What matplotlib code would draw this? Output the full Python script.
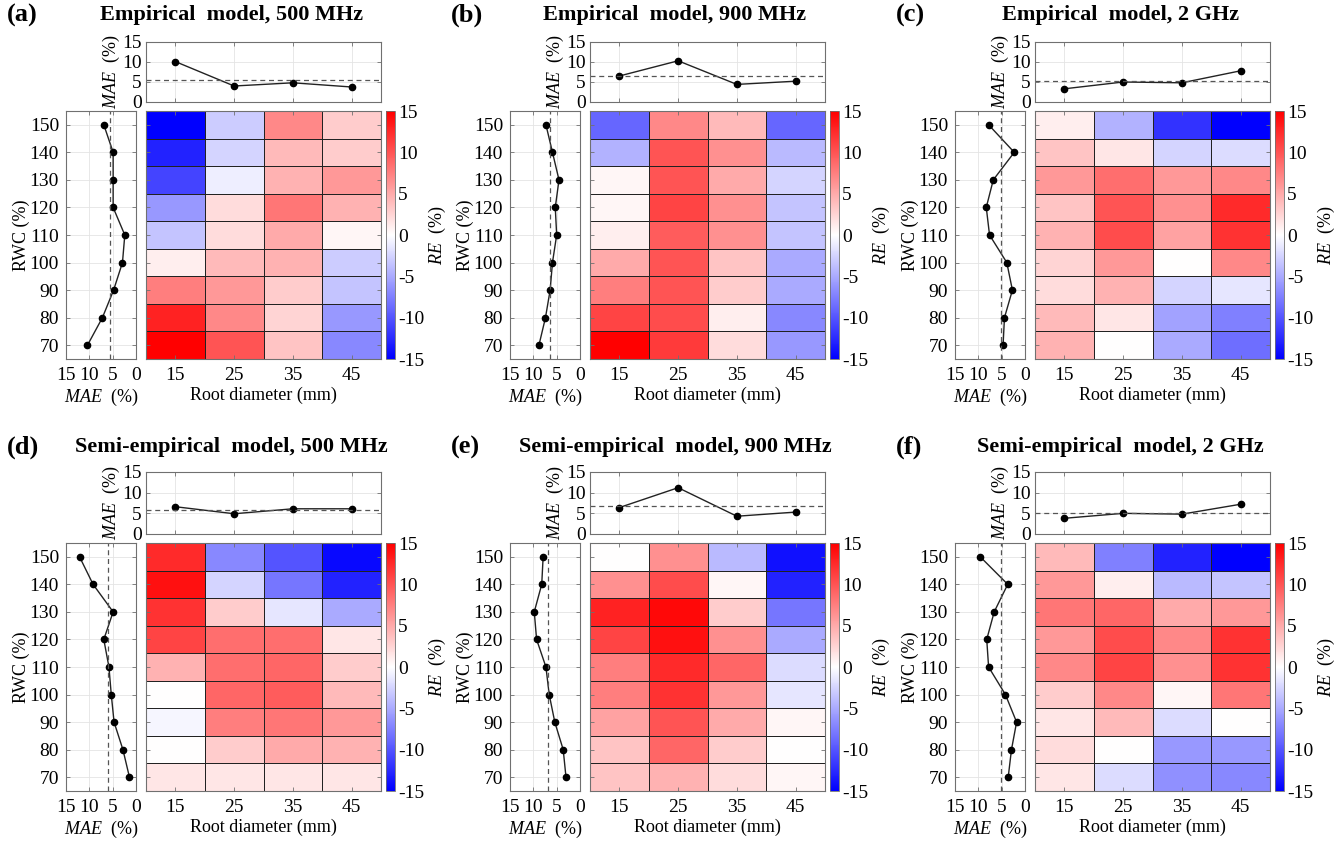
import numpy as np
import matplotlib
matplotlib.use("Agg")
import matplotlib.pyplot as plt
from matplotlib.colors import LinearSegmentedColormap

plt.rcParams['font.family'] = ['Liberation Serif', 'DejaVu Serif']
plt.rcParams['mathtext.fontset'] = 'custom'
plt.rcParams['mathtext.rm'] = 'Liberation Serif'
plt.rcParams['mathtext.it'] = 'Liberation Serif:italic'
plt.rcParams['axes.unicode_minus'] = False

# data
diam = [15, 25, 35, 45]
rwc = [70, 80, 90, 100, 110, 120, 130, 140, 150]

titles = ['Empirical  model, 500 MHz', 'Empirical  model, 900 MHz', 'Empirical  model, 2 GHz',
          'Semi-empirical  model, 500 MHz', 'Semi-empirical  model, 900 MHz', 'Semi-empirical  model, 2 GHz']
letters = ['(a)', '(b)', '(c)', '(d)', '(e)', '(f)']

# relative error, rows = RWC 70..150, cols = diameter 15..45
re_a = [[15, 10, 3.5, -7], [13, 7, 2.5, -6], [7.5, 6, 3, -3.5], [1, 4, 4.5, -3], [-3.5, 2, 5, 0.5],
        [-6, 2, 8, 4.5], [-11, -1, 4.5, 6], [-13, -2.5, 4, 3], [-15, -3, 7, 3]]
re_b = [[15, 11.5, 2, -6], [11, 10.5, 1, -7], [7.5, 10, 3, -5], [5, 10, 3.5, -5], [1, 9.5, 6.5, -3.5],
        [0.5, 11, 6.5, -3.5], [0.5, 10, 5, -2.5], [-4.5, 10, 6.5, -4], [-9, 7, 4, -9]]
re_c = [[4.5, 0, -5, -8.5], [4, 1.5, -5.5, -7.5], [2, 4.5, -2.5, -1.5], [2.5, 6, 0, 7], [4.5, 10.5, 5.5, 12],
        [3.5, 10, 6.5, 12.5], [6, 8.5, 6, 7], [3.5, 1.5, -2.5, -2], [1, -4.5, -12, -15]]
re_d = [[1.5, 1.5, 1.5, 1.5], [0, 3, 5, 4.5], [-0.5, 7.5, 8, 6], [0, 9, 9.5, 4], [4.5, 8.5, 9, 3],
        [11, 8.5, 8.5, 1.5], [12, 3, -1.5, -5], [14, -2.5, -8, -13], [12.5, -7, -10, -14.5]]
re_e = [[3.5, 4.5, 2, 0.5], [3.5, 9, 3, 0], [5.5, 10, 5, 0.5], [7.5, 12, 6, -1.5], [7.5, 12.5, 9, -2],
        [11, 14, 6.5, -5], [13, 14.5, 3, -8], [6.5, 10.5, 0.5, -13], [0, 6.5, -4, -14]]
re_f = [[1.5, -2, -6.5, -7], [2, 0, -6, -6], [1.5, 4, -2, 0], [3, 7, 0.5, 8], [7, 11, 6.5, 12],
        [6, 10.5, 7, 12], [8, 9, 5, 6], [6, 1, -4, -3.5], [4, -7.5, -13, -15]]

# MAE by diameter and by RWC, and overall MAE (dashed line)
mae_d = [[10.1, 4.0, 4.8, 3.75], [6.5, 10.3, 4.4, 5.2], [3.3, 5.0, 4.8, 7.8],
         [6.6, 4.9, 6.1, 6.1], [6.4, 11.2, 4.3, 5.3], [3.8, 5.0, 4.8, 7.2]]
mae_r = [[10.4, 7.2, 4.8, 2.9, 2.4, 4.9, 4.9, 4.9, 6.9],
         [8.8, 7.4, 6.4, 5.9, 5.0, 5.3, 4.5, 5.9, 7.3],
         [4.7, 4.4, 2.7, 3.9, 7.6, 8.3, 6.8, 2.3, 7.8],
         [1.4, 2.8, 4.7, 5.3, 5.8, 6.9, 4.9, 9.2, 12.1],
         [3.0, 3.6, 5.4, 6.6, 7.3, 9.3, 9.8, 8.2, 7.9],
         [3.6, 2.9, 1.8, 4.2, 7.8, 8.2, 6.6, 3.7, 9.6]]
mae_all = [5.6, 6.5, 5.2, 5.9, 6.8, 5.2]

re_all = [re_a, re_b, re_c, re_d, re_e, re_f]

cmap = LinearSegmentedColormap.from_list('bwr2', [(0, 0, 1), (1, 1, 1), (1, 0, 0)])
spine_c = '#707070'
tick_fs = 14
lab_fs = 13
W, H = 1343, 842
fig = plt.figure(figsize=(W / 100, H / 100), dpi=100)


def box(x0, y0, x1, y1):
    # pixel box -> figure fraction
    return [x0 / W, 1 - y1 / H, (x1 - x0) / W, (y1 - y0) / H]


def style(ax):
    for s in ax.spines.values():
        s.set_color(spine_c)
        s.set_linewidth(0.8)
    ax.tick_params(direction='in', top=True, right=True, length=3, width=0.6,
                   color=spine_c, labelsize=tick_fs)
    ax.tick_params(axis='x', pad=6)
    ax.tick_params(axis='y', pad=5)


x_off = [0, 444, 889]
row_y = [(42, 102, 111, 359), (472, 534, 543, 791)]
xe = np.arange(10, 51, 10)
ye = np.arange(65, 156, 10)

for k in range(6):
    r, c = divmod(k, 3)
    ox = x_off[c]
    ty0, ty1, hy0, hy1 = row_y[r]

    # heatmap
    axh = fig.add_axes(box(146 + ox, hy0, 381 + ox, hy1))
    mesh = axh.pcolormesh(xe, ye, np.array(re_all[k]), cmap=cmap, vmin=-15, vmax=15,
                          edgecolors='#222222', linewidth=0.6)
    axh.set_xlim(10, 50)
    axh.set_ylim(65, 155)
    axh.set_xticks(diam)
    axh.set_yticks(rwc)
    axh.set_yticklabels([])
    axh.set_xlabel('Root diameter (mm)', fontsize=lab_fs, labelpad=2)
    style(axh)

    # MAE vs diameter (top)
    axt = fig.add_axes(box(146 + ox, ty0, 381 + ox, ty1))
    axt.plot(diam, mae_d[k], '-o', color='#222222', lw=1.0, ms=4.5, mfc='black', mec='black')
    axt.axhline(mae_all[k], color='#555555', lw=0.9, ls=(0, (4, 3)))
    axt.set_xlim(10, 50)
    axt.set_ylim(0, 15)
    axt.set_xticks(diam)
    axt.set_xticklabels([])
    axt.set_yticks([0, 5, 10, 15])
    axt.grid(True, color='#e4e4e4', lw=0.6)
    axt.set_ylabel(r'$\mathit{MAE}$  (%)', fontsize=lab_fs, labelpad=0)
    style(axt)
    axt.tick_params(axis='y', pad=3)

    # MAE vs RWC (left)
    axl = fig.add_axes(box(66 + ox, hy0, 136 + ox, hy1))
    axl.plot(mae_r[k], rwc, '-o', color='#222222', lw=1.0, ms=4.5, mfc='black', mec='black')
    axl.axvline(mae_all[k], color='#555555', lw=0.9, ls=(0, (4, 3)))
    axl.set_xlim(15, 0)
    axl.set_ylim(65, 155)
    axl.set_xticks([15, 10, 5, 0])
    axl.set_yticks(rwc)
    axl.grid(True, color='#e4e4e4', lw=0.6)
    axl.set_xlabel(r'$\mathit{MAE}$  (%)', fontsize=lab_fs, labelpad=2)
    axl.set_ylabel('RWC (%)', fontsize=lab_fs, labelpad=0)
    style(axl)

    # colorbar
    cax = fig.add_axes(box(386 + ox, hy0, 395 + ox, hy1))
    cb = fig.colorbar(mesh, cax=cax, ticks=[-15, -10, -5, 0, 5, 10, 15])
    cb.outline.set_edgecolor(spine_c)
    cb.outline.set_linewidth(0.6)
    cax.tick_params(direction='in', length=0, labelsize=tick_fs, pad=2)
    cb.set_label(r'$\mathit{RE}$  (%)', fontsize=lab_fs, labelpad=2)

    # titles
    ty = 15 if r == 0 else 447
    fig.text((7 + ox) / W, 1 - ty / H, letters[k], fontsize=19, fontweight='bold', va='center', ha='left')
    fig.text((231 + ox) / W, 1 - ty / H, titles[k], fontsize=16, fontweight='bold', va='center', ha='center')

fig.savefig('out.png', dpi=100)
